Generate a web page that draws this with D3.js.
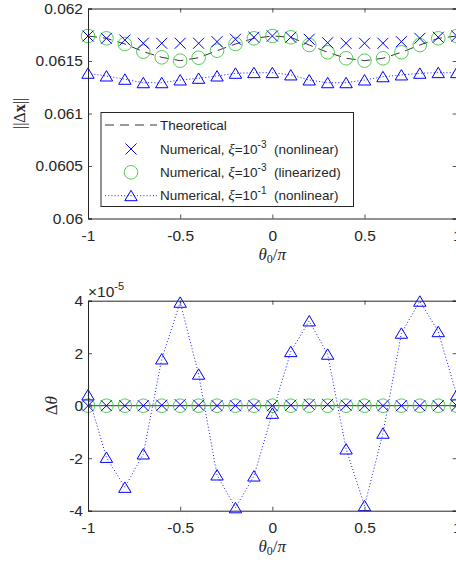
<!DOCTYPE html>
<html><head><meta charset="utf-8">
<script src="https://cdn.jsdelivr.net/npm/d3@7"></script>
<style>
html,body{margin:0;padding:0;background:#fff;}
svg{display:block;}
text{font-family:"Liberation Sans",Arial,sans-serif;fill:#262626;}
.math{font-family:"Liberation Serif","DejaVu Serif",serif;}
</style></head>
<body>
<script>
// ---------- data ----------
const theta0 = [-1,-0.9,-0.8,-0.7,-0.6,-0.5,-0.4,-0.3,-0.2,-0.1,0,0.1,0.2,0.3,0.4,0.5,0.6,0.7,0.8,0.9,1];
const dxTheory = [0.061738,0.061716,0.061662,0.061589,0.061535,0.061503,0.061531,0.061598,0.061662,0.061716,0.061738,0.061726,0.061652,0.061583,0.061526,0.061503,0.061526,0.061583,0.061652,0.061716,0.061738];
const dxNonlin3 = [0.061738,0.061716,0.061700,0.061669,0.061669,0.061669,0.061669,0.061684,0.061707,0.061726,0.061738,0.061726,0.061707,0.061674,0.061669,0.061669,0.061669,0.061684,0.061716,0.061726,0.061738];
const dxLin3 = [0.061738,0.061716,0.061662,0.061589,0.061535,0.061503,0.061531,0.061598,0.061662,0.061716,0.061738,0.061726,0.061652,0.061583,0.061526,0.061503,0.061526,0.061583,0.061652,0.061716,0.061738];
const dxNonlin1 = [0.061383,0.061357,0.061326,0.061293,0.061293,0.061319,0.061335,0.061357,0.061383,0.061389,0.061389,0.061367,0.061319,0.061293,0.061293,0.061319,0.061350,0.061367,0.061383,0.061389,0.061389];
// Δθ values in units of 1e-5
const dthTheory = [0,0,0,0,0,0,0,0,0,0,0,0,0,0,0,0,0,0,0,0,0];
const dthNonlin3 = [0,0,0,0,0.02,0.04,0.02,0,0,0,0,0.02,0.05,0.05,0.02,0,0,0,0,0,0];
const dthLin3 = [0,0,0,0,0,0,0,0,0,0,0,0,0,0,0,0,0,0,0,0,0];
const dthNonlin1 = [0.41,-1.97,-3.11,-1.84,1.78,3.94,1.2,-2.64,-3.89,-2.68,-0.29,2.06,3.23,1.96,-1.65,-3.81,-1.05,2.76,3.98,2.82,0.41];
const xTicks = [-1,-0.5,0,0.5,1];
const xTickLabels = ["-1","-0.5","0","0.5","1"];
const yTicksTop = [0.06,0.0605,0.061,0.0615,0.062];
const yTickLabelsTop = ["0.06","0.0605","0.061","0.0615","0.062"];
const yTicksBot = [-4,-2,0,2,4];
const yTickLabelsBot = ["-4","-2","0","2","4"];

// ---------- setup ----------
const W=456,H=563;
const BLUE="#0000ff", GREEN="#3cc83c", AX="#262626";
const svg=d3.select("body").append("svg").attr("width",W).attr("height",H);
svg.append("rect").attr("width",W).attr("height",H).attr("fill","#fff");

const x = d3.scaleLinear().domain([-1,1]).range([88,456.7]);
const yTop = d3.scaleLinear().domain([0.06,0.062]).range([218.5,8.5]);
const yBot = d3.scaleLinear().domain([-4,4]).range([510.7,300.7]);
const TFS=15.5;

function drawAxes(y, yTicks, yLabels){
  const [y0,y1]=y.range();
  const fmtX=d=>xTickLabels[xTicks.indexOf(d)];
  const fmtY=d=>yLabels[yTicks.indexOf(d)];
  const gB=svg.append("g").attr("transform",`translate(0,${y0})`)
    .call(d3.axisBottom(x).tickValues(xTicks).tickFormat(fmtX).tickSize(-4).tickPadding(11));
  const gT=svg.append("g").attr("transform",`translate(0,${y1})`)
    .call(d3.axisTop(x).tickValues(xTicks).tickFormat("").tickSize(-4));
  const gL=svg.append("g").attr("transform",`translate(${x.range()[0]},0)`)
    .call(d3.axisLeft(y).tickValues(yTicks).tickFormat(fmtY).tickSize(-4).tickPadding(5));
  const gR=svg.append("g").attr("transform",`translate(${x.range()[1]},0)`)
    .call(d3.axisRight(y).tickValues(yTicks).tickFormat("").tickSize(-4));
  [gB,gT,gL,gR].forEach(g=>{
    g.select(".domain").attr("stroke",AX).attr("stroke-width",1);
    g.selectAll(".tick line").attr("stroke",AX).attr("stroke-width",0.8);
    g.selectAll("text").attr("fill",AX).style("font-size",TFS+"px")
      .style("font-family",'"Liberation Sans",Arial,sans-serif');
  });
}

function crossPath(s){return `M${-s},${-s}L${s},${s}M${-s},${s}L${s},${-s}`;}
const triPath="M0,-5.4L6.2,5L-6.2,5Z";

function drawSeries(y, theory, nonlin3, lin3, nonlin1, theoryDash){
  const line=d3.line().x((d,i)=>x(theta0[i])).y(d=>y(d));
  svg.append("path").datum(theory).attr("d",line).attr("fill","none")
    .attr("stroke",theoryDash?"#000":"#333").attr("stroke-width",theoryDash?0.8:1)
    .attr("stroke-dasharray",theoryDash?"9,6":null);
  svg.append("path").datum(nonlin1).attr("d",line).attr("fill","none")
    .attr("stroke",BLUE).attr("stroke-width",0.9).attr("stroke-dasharray","1,2.2");
  svg.append("g").selectAll("circle").data(lin3).join("circle")
    .attr("cx",(d,i)=>x(theta0[i])).attr("cy",d=>y(d)).attr("r",6.8)
    .attr("fill","none").attr("stroke",GREEN).attr("stroke-width",0.9);
  svg.append("g").selectAll("path").data(nonlin3).join("path")
    .attr("transform",(d,i)=>`translate(${x(theta0[i])},${y(d)})`)
    .attr("d",crossPath(5.5)).attr("fill","none").attr("stroke",BLUE).attr("stroke-width",1);
  svg.append("g").selectAll("path").data(nonlin1).join("path")
    .attr("transform",(d,i)=>`translate(${x(theta0[i])},${y(d)})`)
    .attr("d",triPath).attr("fill","none").attr("stroke",BLUE).attr("stroke-width",1);
}

drawSeries(yTop, dxTheory, dxNonlin3, dxLin3, dxNonlin1, true);
drawSeries(yBot, dthTheory, dthNonlin3, dthLin3, dthNonlin1, false);
drawAxes(yTop, yTicksTop, yTickLabelsTop);
drawAxes(yBot, yTicksBot, yTickLabelsBot);

// x labels
function xlabel(yc){
  const t=svg.append("text").attr("class","math").attr("x",272.3).attr("y",yc)
    .attr("text-anchor","middle").style("font-size","17px");
  t.append("tspan").attr("font-style","italic").text("θ");
  t.append("tspan").attr("dy",3).style("font-size","12px").text("0");
  t.append("tspan").attr("dy",-3).text("/");
  t.append("tspan").attr("font-style","italic").text("π");
}
xlabel(259.5);
xlabel(551.5);

// y labels
const yl1=svg.append("text").attr("class","math")
  .attr("transform","translate(25,113.5) rotate(-90)").attr("text-anchor","middle")
  .style("font-size","16px").attr("fill","#555");
yl1.append("tspan").text("||Δ");
yl1.append("tspan").attr("font-weight","bold").text("x");
yl1.append("tspan").text("||");

const yl2=svg.append("text").attr("class","math")
  .attr("transform","translate(57,405.7) rotate(-90)").attr("text-anchor","middle")
  .style("font-size","17px");
yl2.append("tspan").text("Δ");
yl2.append("tspan").attr("font-style","italic").text("θ");

// exponent label
const ex=svg.append("text").attr("x",88).attr("y",297).style("font-size","15.5px");
ex.append("tspan").text("×10");
ex.append("tspan").attr("dy",-7).style("font-size","11px").text("-5");

// legend
const lg=svg.append("g");
lg.append("rect").attr("x",101).attr("y",112.5).attr("width",252.5).attr("height",94)
  .attr("fill","#fff").attr("stroke",AX).attr("stroke-width",1);
const rows=[125,149,172.3,195.7];
const LX0=105,LX1=157,LM=131,TX=160,LFS=13.5;
lg.append("line").attr("x1",LX0).attr("x2",LX1).attr("y1",rows[0]).attr("y2",rows[0])
  .attr("stroke","#000").attr("stroke-width",0.8).attr("stroke-dasharray","9,6");
lg.append("path").attr("transform",`translate(${LM},${rows[1]})`).attr("d",crossPath(5.5))
  .attr("stroke",BLUE).attr("fill","none");
lg.append("circle").attr("cx",LM).attr("cy",rows[2]).attr("r",6.8).attr("fill","none")
  .attr("stroke",GREEN).attr("stroke-width",0.9);
lg.append("line").attr("x1",LX0).attr("x2",LX1).attr("y1",rows[3]).attr("y2",rows[3])
  .attr("stroke",BLUE).attr("stroke-width",0.9).attr("stroke-dasharray","1,2.2");
lg.append("path").attr("transform",`translate(${LM},${rows[3]})`).attr("d",triPath)
  .attr("stroke",BLUE).attr("fill","none");
const legendTexts=[null,["-3","(nonlinear)"],["-3","(linearized)"],["-1","(nonlinear)"]];
lg.append("text").attr("x",TX).attr("y",rows[0]).attr("dy","0.35em").style("font-size",LFS+"px").text("Theoretical");
for(let k=1;k<4;k++){
  const t=lg.append("text").attr("x",TX).attr("y",rows[k]).attr("dy","0.35em").style("font-size",LFS+"px");
  t.append("tspan").text("Numerical, ");
  t.append("tspan").attr("class","math").attr("font-style","italic").style("font-size","15px").text("ξ");
  t.append("tspan").text("=10");
  t.append("tspan").attr("dy",-6).style("font-size","10px").text(legendTexts[k][0]);
  t.append("tspan").attr("dy",6).text("\u00a0\u00a0"+legendTexts[k][1]);
}
</script>
</body></html>
